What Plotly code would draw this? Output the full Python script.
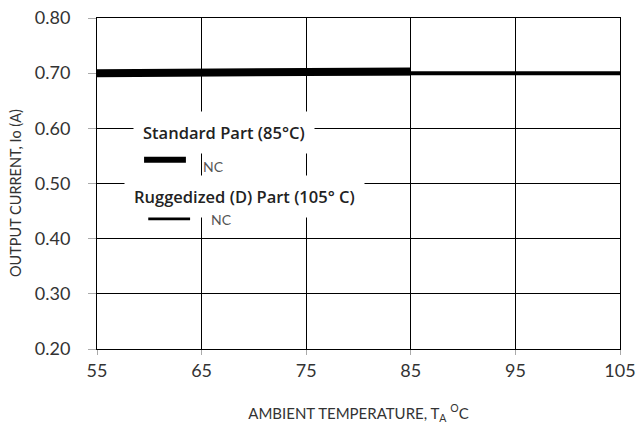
import plotly.graph_objects as go

# data
temp_standard = [55, 85]
current_standard = [0.700, 0.703]
temp_rugged = [55, 105]
current_rugged = [0.700, 0.700]

x_ticks = [55, 65, 75, 85, 95, 105]
y_ticks = [0.20, 0.30, 0.40, 0.50, 0.60, 0.70, 0.80]

FONT = "Lato"
LEGEND_FONT = "Open Sans"

fig = go.Figure()

fig.add_trace(go.Scatter(
    x=temp_rugged, y=current_rugged, mode="lines",
    line=dict(color="black", width=4), name="Ruggedized (D) Part (105°C)",
))
fig.add_trace(go.Scatter(
    x=temp_standard, y=current_standard, mode="lines",
    line=dict(color="black", width=8), name="Standard Part (85°C)",
))

# hand-drawn legend, as in the datasheet
fig.add_annotation(x=58.4, y=0.592, xref="x", yref="y", xanchor="left", yanchor="middle",
                   text="Standard Part (85°C)", showarrow=False,
                   font=dict(family=LEGEND_FONT, size=16.5, color="#222", weight=600),
                   bgcolor="white", borderpad=9)
fig.add_annotation(x=57.6, y=0.477, xref="x", yref="y", xanchor="left", yanchor="middle",
                   text="Ruggedized (D) Part (105° C)", showarrow=False,
                   font=dict(family=LEGEND_FONT, size=16.5, color="#222", weight=600),
                   bgcolor="white", borderpad=9)
fig.add_annotation(x=64.9, y=0.530, xref="x", yref="y", xanchor="left", yanchor="middle",
                   text="NC", showarrow=False, font=dict(family=FONT, size=14, color="#555"))
fig.add_annotation(x=65.7, y=0.434, xref="x", yref="y", xanchor="left", yanchor="middle",
                   text="NC", showarrow=False, font=dict(family=FONT, size=14, color="#555"))
fig.add_shape(type="line", x0=59.5, x1=63.5, y0=0.543, y1=0.543, xref="x", yref="y",
              line=dict(color="black", width=6))
fig.add_shape(type="line", x0=59.9, x1=63.9, y0=0.437, y1=0.437, xref="x", yref="y",
              line=dict(color="black", width=4))

# y title placed by pixel position, converted to paper units
fig.add_annotation(x=(16 - 97) / 523, y=(349 - 193) / 331, xref="paper", yref="paper",
                   xanchor="center", yanchor="middle",
                   showarrow=False, text="OUTPUT CURRENT, Io (A)", textangle=-90,
                   font=dict(family=FONT, size=14.5, color="#333"))

fig.update_layout(
    width=638, height=435,
    margin=dict(l=97, r=18, t=18, b=86),
    plot_bgcolor="white", paper_bgcolor="white",
    showlegend=False,
    font=dict(family=FONT, color="#333"),
)

fig.update_xaxes(
    range=[55, 105], tickvals=x_ticks, ticktext=[str(v) for v in x_ticks],
    showgrid=True, gridcolor="black", gridwidth=1, zeroline=False,
    showline=True, linecolor="black", linewidth=1, mirror=True,
    ticks="outside", ticklen=5, tickcolor="#aaa", automargin=False,
    ticklabeloverflow="allow",
    tickfont=dict(size=18, color="#333"), ticklabelstandoff=0,
    title=dict(text="AMBIENT TEMPERATURE, T<sub>A</sub> <sup>O</sup>C",
               font=dict(size=15, color="#333"), standoff=28),
)
fig.update_yaxes(
    range=[0.2, 0.8], tickvals=y_ticks, ticktext=[f"{v:.2f}" for v in y_ticks],
    showgrid=True, gridcolor="black", gridwidth=1, zeroline=False,
    showline=True, linecolor="black", linewidth=1, mirror=True,
    ticks="outside", ticklen=8, tickcolor="#aaa", automargin=False,
    ticklabeloverflow="allow",
    tickfont=dict(size=18, color="#333"), ticklabelstandoff=14,
)

# drop the browser's default body margin so the figure sits at the page origin
fig.write_html("out.html", config={"displayModeBar": False},
               post_script="document.body.style.margin='0';")
